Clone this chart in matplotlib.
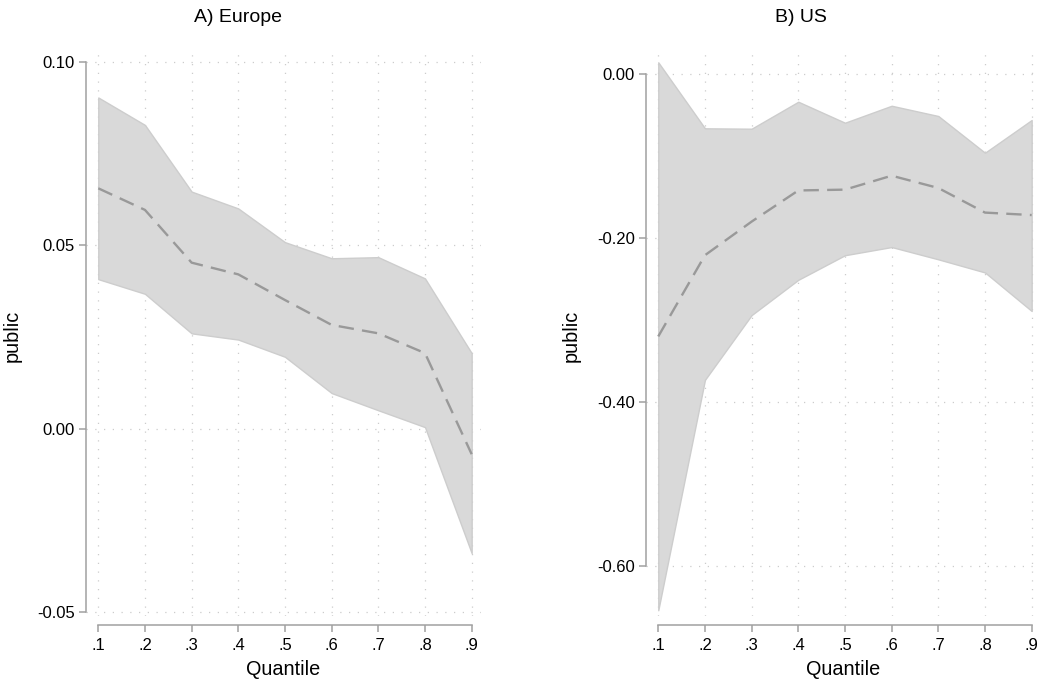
import matplotlib.pyplot as plt

plt.rcParams['font.family'] = ['Liberation Sans', 'DejaVu Sans']

quantiles = [0.1, 0.2, 0.3, 0.4, 0.5, 0.6, 0.7, 0.8, 0.9]
qlabels = [".1", ".2", ".3", ".4", ".5", ".6", ".7", ".8", ".9"]

# A) Europe
eu_coef = [0.0656, 0.0597, 0.0453, 0.0421, 0.0351, 0.0283, 0.0260, 0.0206, -0.0070]
eu_upper = [0.0904, 0.0829, 0.0647, 0.0601, 0.0509, 0.0465, 0.0468, 0.0410, 0.0206]
eu_lower = [0.0408, 0.0368, 0.0260, 0.0243, 0.0196, 0.0097, 0.0050, 0.0004, -0.0340]
eu_yticks = [-0.05, 0.0, 0.05, 0.10]
eu_ylabels = ["-0.05", "0.00", "0.05", "0.10"]

# B) US
us_coef = [-0.320, -0.221, -0.180, -0.142, -0.141, -0.124, -0.139, -0.169, -0.172]
us_upper = [0.0143, -0.0662, -0.0667, -0.0338, -0.0594, -0.0387, -0.0512, -0.0960, -0.0561]
us_lower = [-0.654, -0.373, -0.294, -0.251, -0.221, -0.211, -0.226, -0.242, -0.289]
us_yticks = [-0.60, -0.40, -0.20, 0.0]
us_ylabels = ["-0.60", "-0.40", "-0.20", "0.00"]

W, H = 1040, 681
fig = plt.figure(figsize=(W / 100, H / 100), dpi=100)

axcol = "#a0a0a0"
gridcol = "#cccccc"


def panel(left, coef, upper, lower, yticks, ylabels, ylim, title, title_x, ylabel_x):
    ax = fig.add_axes([left / W, 1 - 616 / H, 395 / W, 566 / H])
    ax.fill_between(quantiles, lower, upper, facecolor="#d9d9d9", edgecolor="#cdcdcd",
                    linewidth=1.0, zorder=2)
    ax.plot(quantiles, coef, color="#999999", linewidth=1.7, linestyle=(0, (6.5, 3.5)), zorder=3)
    ax.set_xlim(0.0737, 0.92)
    ax.set_ylim(*ylim)
    ax.set_xticks(quantiles)
    ax.set_xticklabels(qlabels)
    ax.set_yticks(yticks)
    ax.set_yticklabels(ylabels)
    ax.grid(True, color=gridcol, linestyle=(0, (1, 6)), linewidth=0.9, zorder=0)
    ax.set_axisbelow(True)
    for s in ["top", "right"]:
        ax.spines[s].set_visible(False)
    ax.spines["left"].set_color(axcol)
    ax.spines["bottom"].set_color(axcol)
    ax.spines["left"].set_linewidth(1.1)
    ax.spines["bottom"].set_linewidth(1.1)
    ax.spines["left"].set_bounds(yticks[0], yticks[-1])
    ax.spines["bottom"].set_bounds(quantiles[0], quantiles[-1])
    ax.spines["bottom"].set_position(("outward", 6.3))
    ax.tick_params(axis="both", colors=axcol, length=5, width=1.1, labelsize=12,
                   labelcolor="black")
    ax.tick_params(axis="x", pad=4.5)
    ax.tick_params(axis="y", pad=3)
    ax.set_xlabel("Quantile", fontsize=14.3, labelpad=5)
    fig.text(ylabel_x / W, 1 - 336 / H, "public", rotation=90, fontsize=14.3,
             ha="center", va="center")
    fig.text(title_x / W, 1 - 22.5 / H, title, fontsize=14, ha="center", va="baseline")
    return ax


panel(86, eu_coef, eu_upper, eu_lower, eu_yticks, eu_ylabels, (-0.05117, 0.10336),
      "A) Europe", 238, 12.5)
panel(646, us_coef, us_upper, us_lower, us_yticks, us_ylabels, (-0.661, 0.0293),
      "B) US", 801, 571)

fig.savefig("out.png", dpi=100, facecolor="white")
